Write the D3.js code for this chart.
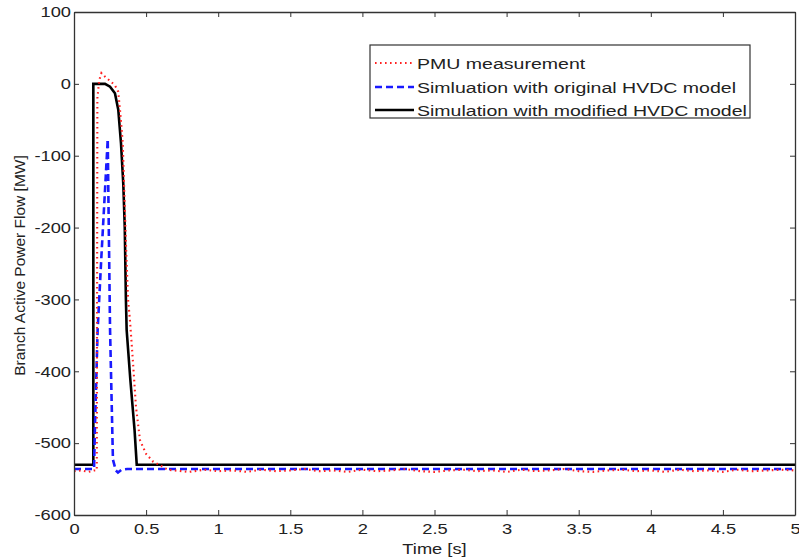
<!DOCTYPE html>
<html><head><meta charset="utf-8">
<script src="https://cdn.jsdelivr.net/npm/d3@7"></script>
<style>body{margin:0;background:#fff}svg{display:block}text{font-family:"Liberation Sans",Arial,sans-serif;fill:#222}</style>
</head><body>
<div id="chart"></div>
<script>
const xTicks = [0,0.5,1,1.5,2,2.5,3,3.5,4,4.5,5];
const yTicks = [-600,-500,-400,-300,-200,-100,0,100];
const seriesNames = ["PMU measurement","Simluation with original HVDC model","Simulation with modified HVDC model"];

const pmuT = [0,0.05,0.1,0.14,0.158,0.16,0.162,0.175,0.19,0.203,0.215,0.25,0.284,0.307,0.319,0.338,0.349,0.36,0.375,0.388,0.41,0.43,0.458,0.5,0.55,0.6,0.65,
  0.7,0.8,0.9,1.0,1.1,1.2,1.3,1.4,1.5,1.6,1.7,1.8,1.9,2.0,2.1,2.2,2.3,2.4,2.5,2.6,2.7,2.8,2.9,3.0,3.1,3.2,3.3,3.4,3.5,3.6,3.7,3.8,3.9,4.0,4.1,4.2,4.3,4.4,4.5,4.6,4.7,4.8,4.9,5.0];
const pmuV = [-539,-538,-540,-538,-538,-300,-20,5,15,12,10,4,-2,-11,-36,-82,-152,-220,-300,-329,-390,-450,-496,-515,-526,-531,-537,
  -538,-540,-537,-539,-538,-540,-537,-539,-538,-536,-539,-538,-540,-537,-539,-538,-536,-539,-540,-538,-537,-539,-538,-540,-537,-539,-538,-536,-539,-540,-538,-537,-539,-538,-540,-537,-539,-538,-540,-537,-539,-538,-537,-538];

const origT = [0,0.139,0.145,0.164,0.19,0.215,0.234,0.238,0.25,0.27,0.29,0.305,0.33,0.37,5];
const origV = [-536,-536,-480,-342,-240,-148,-77,-148,-342,-523,-538,-541,-537,-536,-536];

const modT = [0,0.134,0.134,0.215,0.25,0.284,0.307,0.326,0.342,0.352,0.36,0.365,0.39,0.42,0.435,5];
const modV = [-530,-530,0,0,-4,-13,-36,-83,-140,-200,-300,-342,-410,-482,-530,-530];

const W=799,H=558, m={l:74,t:12,r:4,b:43};
const SX=1.22; // horizontal text stretch seen in the reference
const svg=d3.select("#chart").append("svg").attr("width",W).attr("height",H);
const x=d3.scaleLinear().domain([0,5]).range([m.l,W-m.r]);
const y=d3.scaleLinear().domain([-600,100]).range([H-m.b,m.t]);

svg.append("clipPath").attr("id","c").append("rect").attr("x",m.l).attr("y",m.t).attr("width",W-m.r-m.l).attr("height",H-m.b-m.t);

const line=d3.line().x(d=>x(d[0])).y(d=>y(d[1]));
const g=svg.append("g").attr("clip-path","url(#c)");
const zip=(a,b)=>a.map((v,i)=>[v,b[i]]);
const styles=[{c:"#ff2020",w:2.1,d:"1.6,3.4"},{c:"#1a1aff",w:2.6,d:"7,4"},{c:"#000",w:2.6,d:null}];
g.append("path").datum(zip(modT,modV)).attr("d",line).attr("fill","none").attr("stroke",styles[2].c).attr("stroke-width",styles[2].w);
g.append("path").datum(zip(origT,origV)).attr("d",line).attr("fill","none").attr("stroke",styles[1].c).attr("stroke-width",styles[1].w).attr("stroke-dasharray",styles[1].d);
g.append("path").datum(zip(pmuT,pmuV)).attr("d",line).attr("fill","none").attr("stroke",styles[0].c).attr("stroke-width",styles[0].w).attr("stroke-dasharray",styles[0].d);

const axCol="#333";
const fmt=d=>String(d);
const xb=svg.append("g").attr("transform",`translate(0,${H-m.b})`).call(d3.axisBottom(x).tickValues(xTicks).tickFormat(fmt).tickSizeInner(-5).tickSizeOuter(0).tickPadding(8));
const xt=svg.append("g").attr("transform",`translate(0,${m.t})`).call(d3.axisTop(x).tickValues(xTicks).tickFormat("").tickSizeInner(-5).tickSizeOuter(0));
const yl=svg.append("g").attr("transform",`translate(${m.l},0)`).call(d3.axisLeft(y).tickValues(yTicks).tickFormat(fmt).tickSizeInner(-5).tickSizeOuter(0).tickPadding(3));
const yr=svg.append("g").attr("transform",`translate(${W-m.r},0)`).call(d3.axisRight(y).tickValues(yTicks).tickFormat("").tickSizeInner(-5).tickSizeOuter(0));
[xb,xt,yl,yr].forEach(a=>{a.select(".domain").attr("stroke",axCol).attr("stroke-width",1.3);a.selectAll(".tick line").attr("stroke",axCol);
  a.selectAll("text").attr("font-size",15).attr("fill","#222").attr("font-family","Liberation Sans, Arial, sans-serif")
   .each(function(){const t=d3.select(this);const xv=+t.attr("x")||0;t.attr("x",xv/SX).attr("transform",`scale(${SX},1)`);});});

function stretchedText(parent,px,py,size,str,anchor,sx){
  return parent.append("text").attr("transform",`translate(${px},${py}) scale(${sx||SX},1)`).attr("text-anchor",anchor||"start").attr("font-size",size).text(str);
}
stretchedText(svg,(m.l+W-m.r)/2,554,15,"Time [s]","middle");
svg.append("text").attr("transform",`translate(25,${(m.t+H-m.b)/2+2}) rotate(-90)`).attr("text-anchor","middle").attr("font-size",15.5).text("Branch Active Power Flow [MW]");

const lg=svg.append("g");
lg.append("rect").attr("x",370).attr("y",45).attr("width",380).attr("height",73).attr("fill","#fff").attr("stroke",axCol).attr("stroke-width",1.2);
const rows=[63,87,110];
const texts=seriesNames.map((n,i)=>{
  lg.append("line").attr("x1",375).attr("x2",414).attr("y1",rows[i]).attr("y2",rows[i]).attr("stroke",styles[i].c).attr("stroke-width",styles[i].w).attr("stroke-dasharray",styles[i].d);
  return stretchedText(lg,417,rows[i]+5.5,15.5,n,"start",1);
});
const longest=d3.max(texts,t=>t.node().getComputedTextLength());
const s=330/longest;
texts.forEach((t,i)=>t.attr("transform",`translate(417,${rows[i]+5.5}) scale(${s},1)`));
</script>
</body></html>
